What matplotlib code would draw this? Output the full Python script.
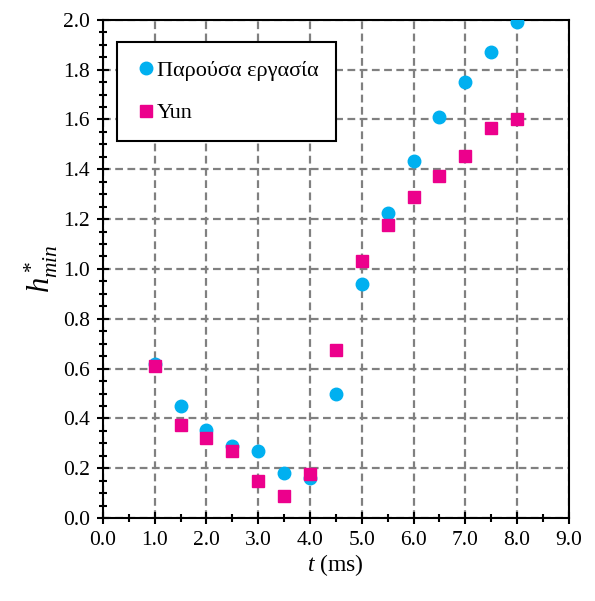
import matplotlib
matplotlib.use('Agg')
import matplotlib.pyplot as plt
from matplotlib.ticker import MultipleLocator

plt.rcParams['font.family'] = ['Liberation Serif', 'DejaVu Serif']
plt.rcParams['mathtext.fontset'] = 'custom'
plt.rcParams['mathtext.it'] = 'Liberation Serif:italic'
plt.rcParams['mathtext.rm'] = 'Liberation Serif'

t = [1.0, 1.5, 2.0, 2.5, 3.0, 3.5, 4.0, 4.5, 5.0, 5.5, 6.0, 6.5, 7.0, 7.5, 8.0]
h_present = [0.62, 0.45, 0.355, 0.29, 0.27, 0.18, 0.16, 0.50, 0.94, 1.225, 1.435, 1.61, 1.75, 1.87, 1.99]
h_yun = [0.61, 0.375, 0.32, 0.27, 0.15, 0.09, 0.175, 0.675, 1.03, 1.175, 1.29, 1.375, 1.455, 1.565, 1.60]

fig = plt.figure(figsize=(5.95, 6.01), dpi=100)
ax = fig.add_axes([0.173, 0.138, 0.783, 0.829])

ax.plot(t, h_present, 'o', color='#00B0F0', markersize=9, label='Παρούσα εργασία', zorder=3)
ax.plot(t, h_yun, 's', color='#EC008C', markersize=8.5, label='Yun', zorder=3)

ax.set_xlim(0, 9)
ax.set_ylim(0, 2.0)
ax.xaxis.set_major_locator(MultipleLocator(1.0))
ax.xaxis.set_minor_locator(MultipleLocator(0.5))
ax.yaxis.set_major_locator(MultipleLocator(0.2))
ax.yaxis.set_minor_locator(MultipleLocator(0.05))
ax.xaxis.set_major_formatter('{x:.1f}')
ax.yaxis.set_major_formatter('{x:.1f}')

ax.grid(True, which='major', linestyle=(0, (3.5, 2)), color='#808080', linewidth=1.6)
ax.set_axisbelow(True)

for s in ax.spines.values():
    s.set_color('black')
    s.set_linewidth(1.5)

ax.tick_params(which='major', direction='inout', length=9, width=1.5, labelsize=15.5, pad=5)
ax.tick_params(which='minor', direction='inout', length=6, width=1.5)

ax.set_xlabel(r'$t$ (ms)', fontsize=17, labelpad=1)
ax.set_ylabel(r'$h^*_{min}$', fontsize=22, labelpad=2)

leg = ax.legend(loc='upper left', bbox_to_anchor=(0.03, 0.955), fontsize=16,
                frameon=True, fancybox=False, edgecolor='black', framealpha=1,
                handletextpad=0.0, handlelength=1.0, labelspacing=1.0,
                borderpad=0.8, borderaxespad=0)
leg.get_frame().set_linewidth(1.5)

fig.savefig('out.png', dpi=100)
